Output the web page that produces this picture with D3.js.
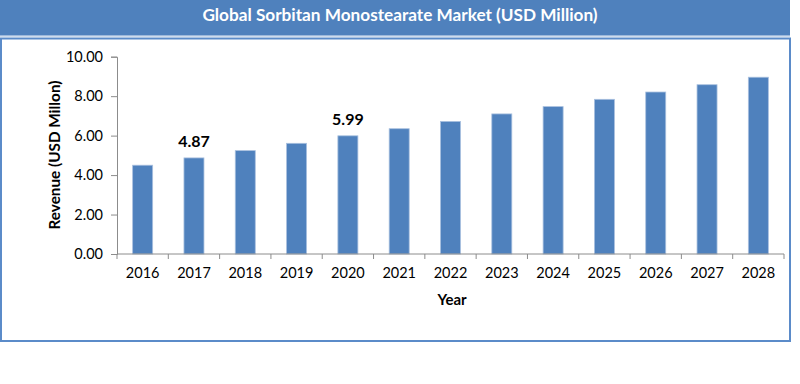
<!DOCTYPE html>
<html>
<head>
<meta charset="utf-8">
<script src="https://cdn.jsdelivr.net/npm/d3@7"></script>
<style>
  html, body { margin: 0; padding: 0; background: #fff; }
  svg { display: block; }
</style>
</head>
<body>
<div id="chart"></div>
<script>
const title = "Global Sorbitan Monostearate Market (USD Million)";
const years = ["2016","2017","2018","2019","2020","2021","2022","2023","2024","2025","2026","2027","2028"];
const revenue = [4.50, 4.87, 5.24, 5.61, 5.99, 6.35, 6.72, 7.10, 7.47, 7.84, 8.21, 8.58, 8.96];
const labelledYears = ["2017", "2020"];
const yTicks = [0, 2, 4, 6, 8, 10];
const yTitle = "Revenue (USD Millon)";
const xTitle = "Year";

const W = 800, H = 384;
const blue = "#4F81BD";
const font = "Lato, 'Open Sans', sans-serif";

const svg = d3.select("#chart").append("svg").attr("width", W).attr("height", H);

// title band
svg.append("rect").attr("x", 0).attr("y", 0).attr("width", 790).attr("height", 35).attr("fill", blue);
svg.append("rect").attr("x", 0).attr("y", 35).attr("width", 790).attr("height", 1.5).attr("fill", "#9DB9DC");
svg.append("text").attr("x", 400).attr("y", 21)
  .attr("text-anchor", "middle").attr("fill", "#fff")
  .attr("font-family", font).attr("font-weight", "bold").attr("font-size", 17.2)
  .text(title);

// frame
svg.append("rect").attr("x", 1).attr("y", 38.5).attr("width", 789).attr("height", 302.5)
  .attr("fill", "none").attr("stroke", "#5B8BC9").attr("stroke-width", 2);

const x = d3.scaleBand().domain(years).range([117, 784]).paddingInner(0.61).paddingOuter(0.305);
const y = d3.scaleLinear().domain([0, 10]).range([254, 56.7]);

const axisColor = "#8C8C8C";

// bars
svg.append("g").selectAll("rect").data(years).join("rect")
  .attr("x", d => x(d))
  .attr("y", (d, i) => y(revenue[i]))
  .attr("width", x.bandwidth())
  .attr("height", (d, i) => y(0) - y(revenue[i]))
  .attr("fill", blue)
  .attr("stroke", "#A9C0DF").attr("stroke-width", 0.8);

// y axis
const yAxis = svg.append("g").attr("transform", "translate(117,0)")
  .call(d3.axisLeft(y).tickValues(yTicks).tickFormat(d3.format(".2f")).tickSize(6).tickPadding(8));
yAxis.select(".domain").attr("stroke", axisColor);
yAxis.selectAll(".tick line").attr("stroke", axisColor);
yAxis.selectAll("text").attr("font-family", font).attr("font-size", 14.5).attr("fill", "#000");

// x axis
const xAxis = svg.append("g").attr("transform", "translate(0,254)")
  .call(d3.axisBottom(x).tickSize(0).tickPadding(14));
xAxis.select(".domain").attr("stroke", axisColor).attr("d", "M117,0H784");
xAxis.selectAll("text").attr("font-family", font).attr("font-size", 14.5).attr("fill", "#000");
// category boundary ticks
const bounds = years.map(d => x(d) - x.step() * x.paddingInner() / 2).concat([784]);
xAxis.append("g").selectAll("line").data(bounds).join("line")
  .attr("x1", d => d).attr("x2", d => d).attr("y1", 0).attr("y2", 5)
  .attr("stroke", axisColor);

// data labels
svg.append("g").selectAll("text").data(years.filter(d => labelledYears.includes(d))).join("text")
  .attr("x", d => x(d) + x.bandwidth() / 2)
  .attr("y", d => y(revenue[years.indexOf(d)]) - 11)
  .attr("text-anchor", "middle")
  .attr("font-family", font).attr("font-weight", "bold").attr("font-size", 16)
  .text(d => revenue[years.indexOf(d)].toFixed(2));

// axis titles
svg.append("text").attr("transform", "translate(60,155) rotate(-90)")
  .attr("text-anchor", "middle").attr("font-family", font).attr("font-weight", "bold").attr("font-size", 15.3)
  .text(yTitle);
svg.append("text").attr("x", 452).attr("y", 305)
  .attr("text-anchor", "middle").attr("font-family", font).attr("font-weight", "bold").attr("font-size", 15)
  .text(xTitle);
</script>
</body>
</html>
